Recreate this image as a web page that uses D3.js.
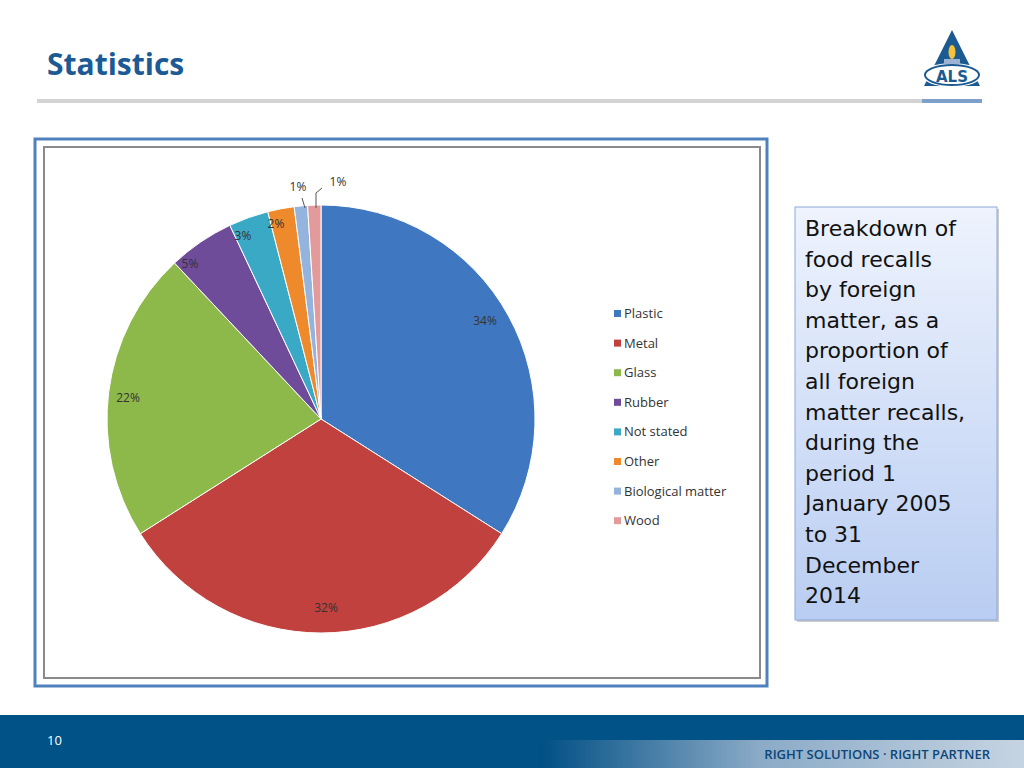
<!DOCTYPE html>
<html><head><meta charset="utf-8">
<script src="https://cdn.jsdelivr.net/npm/d3@7"></script>
<style>body{margin:0;background:#fff;}svg{display:block;}</style>
</head><body>
<svg id="c" width="1024" height="768"></svg>
<script>
const categories = ['Plastic','Metal','Glass','Rubber','Not stated','Other','Biological matter','Wood'];
const values = [34, 32, 22, 5, 3, 2, 1, 1];
const colors = ['#3f78c1','#c0413d','#8db84a','#6f4c9a','#3aa9c6','#ef8a2c','#94b3dd','#e39a9a'];
const calloutLines = ['Breakdown of','food recalls','by foreign','matter, as a','proportion of','all foreign','matter recalls,','during the','period 1','January 2005','to 31','December','2014'];

const svg = d3.select('#c');
const defs = svg.append('defs');

// header
svg.append('text').attr('x', 47).attr('y', 75).attr('fill', '#1b5a94')
  .attr('font-family', 'Open Sans').attr('font-weight', 'bold').attr('font-size', 30).text('Statistics');
svg.append('rect').attr('x', 37).attr('y', 99).attr('width', 890).attr('height', 4).attr('fill', '#d3d3d3');
svg.append('rect').attr('x', 922).attr('y', 99).attr('width', 60).attr('height', 4).attr('fill', '#7f9fcb');

// logo
const logo = svg.append('g');
logo.append('path').attr('d', 'M952,30 L980,86 L924,86 Z').attr('fill', '#1c5a92');
logo.append('ellipse').attr('cx', 952).attr('cy', 75).attr('rx', 30).attr('ry', 12).attr('fill', '#fff');
logo.append('ellipse').attr('cx', 952).attr('cy', 75).attr('rx', 27).attr('ry', 10).attr('fill', 'none').attr('stroke', '#1c5a92').attr('stroke-width', 2);
logo.append('ellipse').attr('cx', 952).attr('cy', 52).attr('rx', 3.5).attr('ry', 7).attr('fill', '#f5c33a');
logo.append('rect').attr('x', 944).attr('y', 59).attr('width', 16).attr('height', 5).attr('fill', '#9db3d3');
logo.append('text').attr('x', 952).attr('y', 82).attr('text-anchor', 'middle').attr('fill', '#1c5a92')
  .attr('font-family', 'DejaVu Sans').attr('font-weight', 'bold').attr('font-size', 15).text('ALS');

// chart frames
svg.append('rect').attr('x', 35).attr('y', 139).attr('width', 732).attr('height', 547)
  .attr('fill', '#fff').attr('stroke', '#4f81bd').attr('stroke-width', 3);
svg.append('rect').attr('x', 44).attr('y', 147).attr('width', 716).attr('height', 531)
  .attr('fill', '#fff').attr('stroke', '#8a8a8a').attr('stroke-width', 2);

// pie
const cx = 321, cy = 419, r = 214;
const pie = d3.pie().sort(null).value(d => d)(values);
const arc = d3.arc().innerRadius(0).outerRadius(r);
const pg = svg.append('g').attr('transform', `translate(${cx},${cy})`);
pg.selectAll('path').data(pie).join('path')
  .attr('d', arc).attr('fill', (d, i) => colors[i]).attr('stroke', '#fff').attr('stroke-width', 1);

const labelPos = [[485,325],[326,612],[128,402],[190,268],[243,240],[276,228],[298,191],[338,186]];
svg.append('g').selectAll('text').data(values).join('text')
  .attr('x', (d, i) => labelPos[i][0]).attr('y', (d, i) => labelPos[i][1])
  .attr('text-anchor', 'middle').attr('font-family', 'Open Sans').attr('font-size', 12).attr('fill', '#333')
  .text(d => d + '%');
// leader lines for small slices
svg.append('path').attr('d', 'M316,208 L316,193 L322,188').attr('fill', 'none').attr('stroke', '#555');
svg.append('path').attr('d', 'M305,208 L302,198').attr('fill', 'none').attr('stroke', '#555');

// legend
const lg = svg.append('g').selectAll('g').data(categories).join('g')
  .attr('transform', (d, i) => `translate(614,${315 + i * 29.6})`);
lg.append('rect').attr('x', 0).attr('y', -5).attr('width', 7).attr('height', 7).attr('fill', (d, i) => colors[i]);
lg.append('text').attr('x', 10).attr('y', 3).attr('font-family', 'Open Sans').attr('font-size', 13).attr('fill', '#333').text(d => d);

// callout
const cg = defs.append('linearGradient').attr('id', 'cg').attr('x1', 0).attr('y1', 0).attr('x2', 0).attr('y2', 1);
cg.append('stop').attr('offset', 0).attr('stop-color', '#eef3fd');
cg.append('stop').attr('offset', 1).attr('stop-color', '#b9cdf2');
svg.append('rect').attr('x', 797).attr('y', 209).attr('width', 202).attr('height', 413).attr('fill', '#999').attr('opacity', 0.5);
svg.append('rect').attr('x', 795).attr('y', 207).attr('width', 202).attr('height', 413)
  .attr('fill', 'url(#cg)').attr('stroke', '#8ea9d8').attr('stroke-width', 1);
svg.append('g').selectAll('text').data(calloutLines).join('text')
  .attr('x', 805).attr('y', (d, i) => 236 + i * 30.6)
  .attr('font-family', 'DejaVu Sans').attr('font-size', 22).attr('fill', '#111').text(d => d);

// footer
const fg = defs.append('linearGradient').attr('id', 'fg');
fg.append('stop').attr('offset', 0).attr('stop-color', '#004f85');
fg.append('stop').attr('offset', 0.45).attr('stop-color', '#8aaac6');
fg.append('stop').attr('offset', 1).attr('stop-color', '#c6d4e2');
svg.append('rect').attr('x', 0).attr('y', 715).attr('width', 1024).attr('height', 53).attr('fill', '#005287');
svg.append('rect').attr('x', 540).attr('y', 740).attr('width', 484).attr('height', 28).attr('fill', 'url(#fg)');
svg.append('text').attr('x', 47).attr('y', 745).attr('font-family', 'Open Sans').attr('font-size', 13).attr('fill', '#fff').text('10');
svg.append('text').attr('x', 990).attr('y', 759).attr('text-anchor', 'end').attr('font-family', 'Open Sans')
  .attr('font-weight', 600).attr('font-size', 13).attr('fill', '#0d4679').text('RIGHT SOLUTIONS · RIGHT PARTNER');
</script>
</body></html>
